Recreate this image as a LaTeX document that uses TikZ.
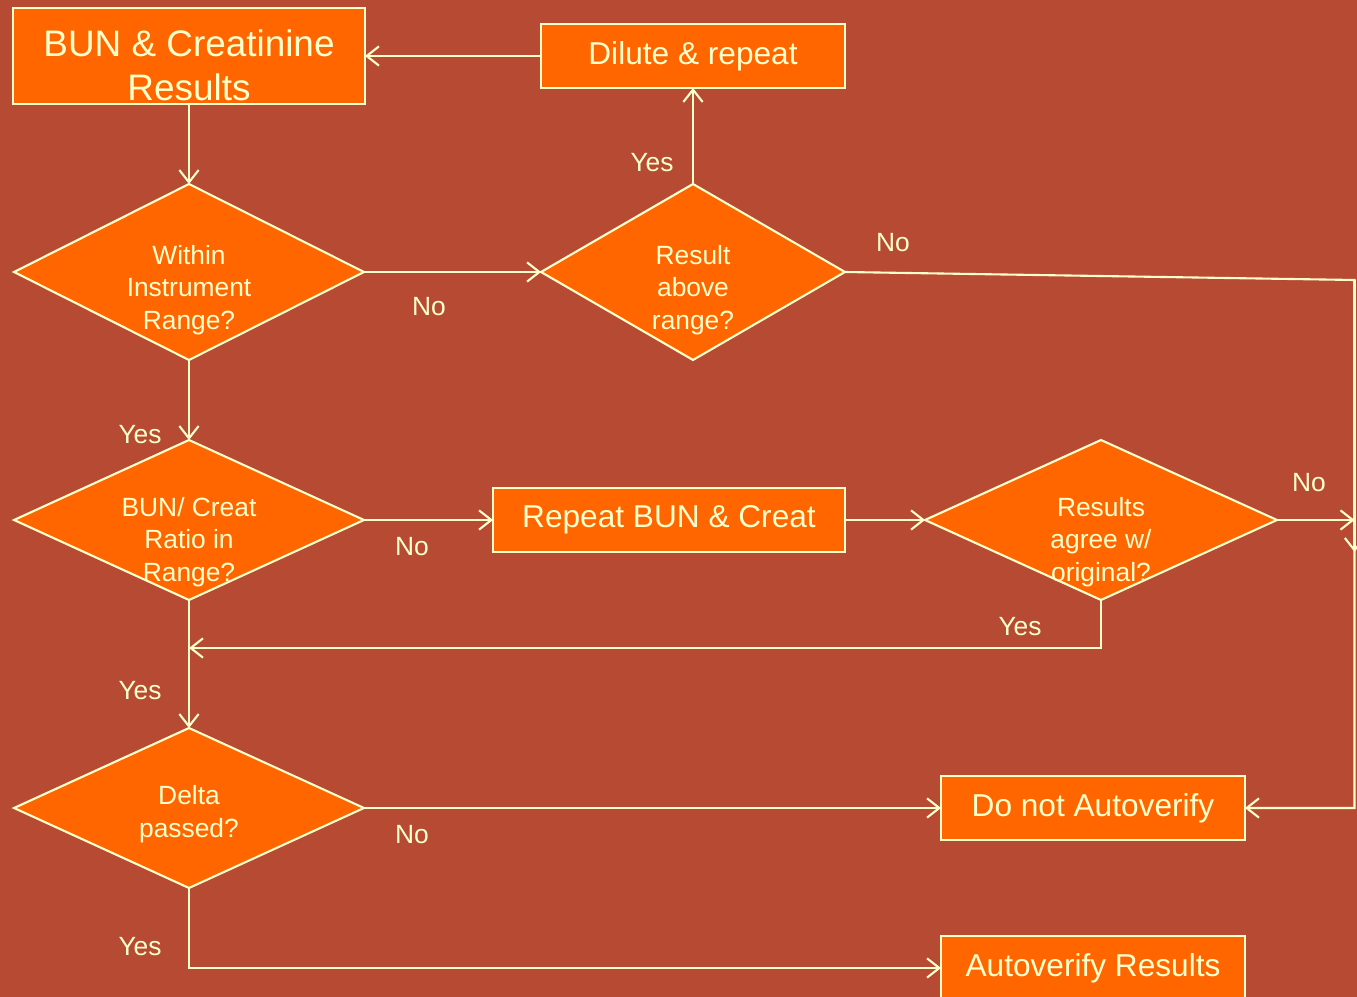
\documentclass[tikz,border=0pt]{standalone}
\usepackage{fontspec}
\setmainfont{Liberation Sans}
\usetikzlibrary{shapes.geometric,arrows.meta}
\definecolor{bg}{HTML}{B74A32}
\definecolor{org}{HTML}{FF6600}
\definecolor{crm}{HTML}{FFFFCC}
\tikzset{
  box/.style={draw=crm,fill=org,line width=1.2pt,rectangle,inner sep=0pt,outer sep=0pt,text=crm,align=center,font=\fontsize{18}{22}\selectfont},
  dia/.style={draw=crm,fill=org,line width=1.2pt,diamond,inner sep=0pt,outer sep=0pt},
  dtext/.style={text=crm,align=center,font=\fontsize{15}{18.5}\selectfont,inner sep=0pt},
  lbl/.style={text=crm,font=\fontsize{15}{18}\selectfont,inner sep=0pt},
  arr/.style={draw=crm,line width=1.2pt,-{Straight Barb[length=7pt,width=11pt,line width=1.2pt]}},
  ln/.style={draw=crm,line width=1.2pt}
}
\begin{document}
\begin{tikzpicture}[x=0.02cm,y=-0.02cm]
\fill[bg] (0,0) rectangle (1357,997);
\useasboundingbox (0,0) rectangle (1357,997);
% boxes
\node[box,minimum width=7.04cm,minimum height=1.92cm] (res) at (189,56) {};
\node[text=crm,align=center,font=\fontsize{21}{25}\selectfont,inner sep=0pt] (restxt) at (189,65) {BUN \& Creatinine\\Results};
\node[box,minimum width=6.08cm,minimum height=1.28cm] (dil) at (693,56) {Dilute \& repeat};
\node[box,minimum width=7.04cm,minimum height=1.28cm] (rep) at (669,520) {Repeat BUN \& Creat};
\node[box,minimum width=6.08cm,minimum height=1.28cm] (dna) at (1093,808) {Do not Autoverify};
\node[box,minimum width=6.08cm,minimum height=1.28cm] (av) at (1093,968) {Autoverify Results};
% diamonds
\node[dia,minimum width=7cm,minimum height=3.52cm] (d1) at (189,272) {};
\node[dtext] (t1) at (189,290) {Within\\Instrument\\Range?};
\node[dia,minimum width=6.08cm,minimum height=3.52cm] (d2) at (693,272) {};
\node[dtext] (t2) at (693,290) {Result\\above\\range?};
\node[dia,minimum width=7cm,minimum height=3.2cm] (d3) at (189,520) {};
\node[dtext] (t3) at (189,542) {BUN/ Creat\\Ratio in\\Range?};
\node[dia,minimum width=7.04cm,minimum height=3.2cm] (d4) at (1101,520) {};
\node[dtext] (t4) at (1101,542) {Results\\agree w/\\original?};
\node[dia,minimum width=7cm,minimum height=3.2cm] (d5) at (189,808) {};
\node[dtext] (t5) at (189,814) {Delta\\passed?};
% coordinates
\coordinate (r1) at (1354.5,280);
\coordinate (r2) at (1354.5,552);
\coordinate (r3) at (1354.5,808);
\coordinate (e4) at (1354.5,520);
\coordinate (b4) at (1101,648);
% connectors
\draw[arr] (dil.west) -- (res.east |- dil.west);
\draw[arr] (res.south) -- (d1.north);
\draw[arr] (d1.east) -- (d2.west);
\draw[arr] (d2.north) -- (dil.south);
\draw[arr] (d2.east) -- (r1) -- (r3) -- (dna.east);
\draw[arr] (r1) -- (r2);
\draw[arr] (d1.south) -- (d3.north);
\draw[arr] (d3.east) -- (rep.west);
\draw[arr] (rep.east) -- (d4.west);
\draw[arr] (d4.east) -- (e4);
\draw[arr] (d4.south) -- (b4) -- (d3.south |- b4);
\draw[arr] (d3.south) -- (d5.north);
\draw[arr] (d5.east) -- (dna.west);
\draw[arr] (d5.south) -- (d5.south |- av.west) -- (av.west);
% labels
\node[lbl] (l1) at (429,307) {No};
\node[lbl] (l2) at (652,163) {Yes};
\node[lbl] (l3) at (893,243) {No};
\node[lbl] (l4) at (140,435) {Yes};
\node[lbl] (l5) at (412,547) {No};
\node[lbl] (l6) at (1309,483) {No};
\node[lbl] (l7) at (1020,627) {Yes};
\node[lbl] (l8) at (140,691) {Yes};
\node[lbl] (l9) at (412,835) {No};
\node[lbl] (l10) at (140,947) {Yes};
\end{tikzpicture}
\end{document}
